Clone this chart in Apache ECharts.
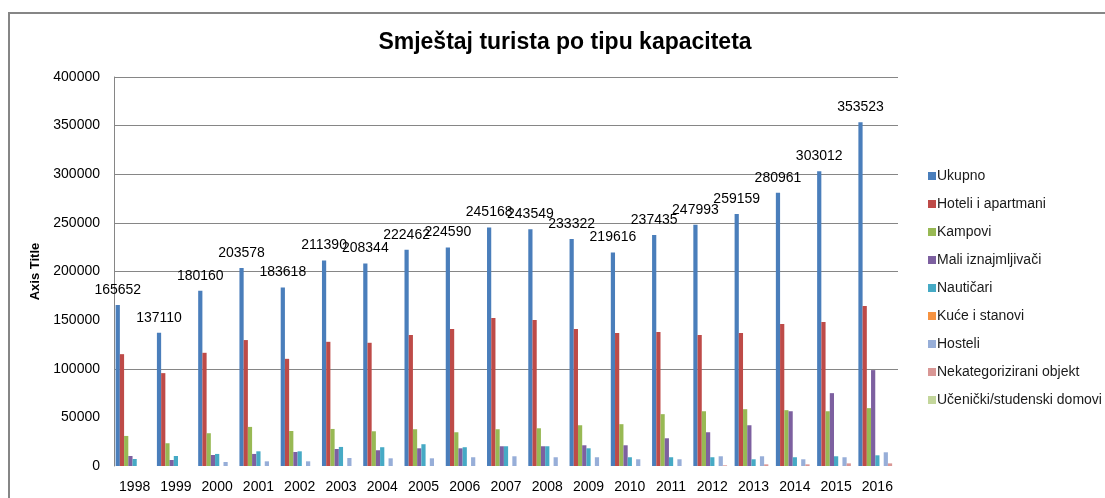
<!DOCTYPE html>
<html>
<head>
<meta charset="utf-8">
<script src="https://cdn.jsdelivr.net/npm/echarts@6/dist/echarts.min.js"></script>
<style>
  html, body { margin: 0; padding: 0; background: #fff; }
  #chart { width: 1105px; height: 498px; }
</style>
</head>
<body>
<div id="chart"></div>
<script>
// godine
const years = ['1998', '1999', '2000', '2001', '2002', '2003', '2004', '2005', '2006', '2007',
  '2008', '2009', '2010', '2011', '2012', '2013', '2014', '2015', '2016']

const ukupno = [165652, 137110, 180160, 203578, 183618, 211390, 208344, 222462, 224590, 245168,
  243549, 233322, 219616, 237435, 247993, 259159, 280961, 303012, 353523]
const hoteli = [115000, 95500, 116400, 129500, 110200, 127700, 126700, 134600, 140800, 152100,
  150100, 140800, 136700, 137700, 134600, 136700, 145900, 148000, 164500]
const kampovi = [30900, 23400, 33700, 40200, 36000, 38100, 35700, 37800, 34700, 37800,
  38800, 41900, 43000, 53300, 56300, 58400, 57400, 56300, 59500]
const maliIznajmljivaci = [10300, 6200, 11300, 12400, 14400, 17500, 16200, 18200, 18200, 20300,
  20300, 21300, 21300, 28500, 34700, 41900, 56300, 74900, 98600]
const nauticari = [7200, 10300, 12400, 15100, 15100, 19600, 19300, 22400, 19300, 20300,
  20300, 18200, 9000, 9000, 9000, 6900, 9000, 10000, 11000]
const kuceStanovi = [0, 0, 0, 0, 0, 0, 0, 0, 0, 0, 0, 0, 0, 0, 0, 0, 0, 0, 0]
const hosteli = [0, 0, 4100, 4800, 4800, 8200, 7900, 7900, 9000, 10000,
  9000, 9000, 6900, 6900, 10000, 10000, 6900, 9000, 14100]
const nekategorizirani = [0, 0, 0, 0, 0, 0, 0, 0, 0, 0,
  0, 0, 0, 0, 700, 1700, 1700, 2700, 2700]
const ucenickiDomovi = [0, 0, 0, 0, 0, 0, 0, 0, 0, 0, 0, 0, 0, 0, 0, 0, 0, 0, 0]

// vidljive linije mreže na slici
const gridValues = [100000, 200000, 250000, 300000, 350000, 400000]

const seriesNames = ['Ukupno', 'Hoteli i apartmani', 'Kampovi', 'Mali iznajmljivači', 'Nautičari',
  'Kuće i stanovi', 'Hosteli', 'Nekategorizirani objekt', 'Učenički/studenski domovi']
const seriesData = [ukupno, hoteli, kampovi, maliIznajmljivaci, nauticari,
  kuceStanovi, hosteli, nekategorizirani, ucenickiDomovi]

const font = 'Liberation Sans, Arial, sans-serif'

const myChart = echarts.init(document.getElementById('chart'))

myChart.setOption({
  animation: false,
  color: ['#4A7EBB', '#BE4B48', '#98B954', '#7D60A0', '#46AAC5', '#F69240', '#97AED8', '#D99795', '#C3D69B'],
  textStyle: { fontFamily: font },
  graphic: [{
    type: 'rect',
    shape: { x: 9, y: 13, width: 1200, height: 600 },
    style: { fill: 'none', stroke: '#868686', lineWidth: 2 },
    silent: true
  }],
  title: {
    text: 'Smještaj turista po tipu kapaciteta',
    left: 560,
    textAlign: 'center',
    top: 26,
    textStyle: { fontSize: 23, fontWeight: 'bold', color: '#000', fontFamily: font }
  },
  legend: {
    orient: 'vertical',
    left: 923,
    top: 164,
    itemWidth: 8,
    itemHeight: 8,
    itemGap: 14,
    icon: 'rect',
    textStyle: { fontSize: 14, color: '#1a1a1a', padding: [0, 0, 0, -4] },
    data: seriesNames
  },
  grid: {
    left: 114,
    right: 207,
    top: 77,
    bottom: 32,
    containLabel: false
  },
  xAxis: {
    type: 'category',
    data: years,
    axisLine: { show: false },
    axisTick: { show: false },
    axisLabel: { color: '#000', fontSize: 14, margin: 14 }
  },
  yAxis: {
    type: 'value',
    min: 0,
    max: 400000,
    interval: 50000,
    name: 'Axis Title',
    nameLocation: 'middle',
    nameGap: 64,
    nameTextStyle: { fontWeight: 'bold', fontSize: 13, color: '#000' },
    axisLine: { show: true, lineStyle: { color: '#868686', width: 1 } },
    axisTick: { show: false },
    axisLabel: { color: '#000', fontSize: 14, margin: 14, formatter: v => String(v) },
    splitLine: { show: false }
  },
  series: seriesNames.map((name, i) => ({
    name: name,
    type: 'bar',
    barGap: '0%',
    barCategoryGap: '8%',
    data: seriesData[i],
    label: {
      show: i === 0,
      position: 'top',
      distance: 8,
      color: '#000',
      fontSize: 14
    },
    markLine: i === 0 ? {
      silent: true,
      symbol: 'none',
      z: 0,
      label: { show: false },
      lineStyle: { color: '#868686', type: 'solid', width: 1 },
      data: gridValues.map(v => ({ yAxis: v }))
    } : undefined
  }))
})
</script>
</body>
</html>
